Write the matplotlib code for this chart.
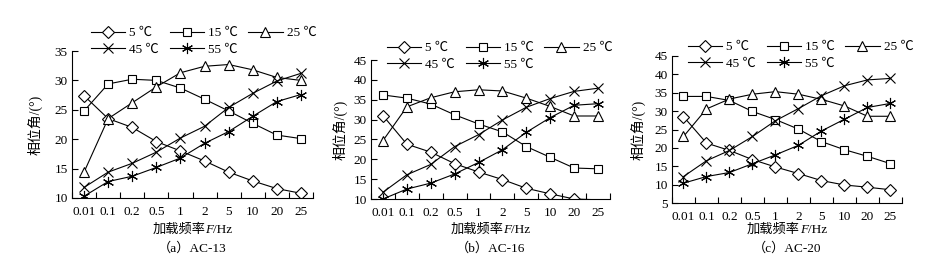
import numpy as np
import matplotlib
matplotlib.use('Agg')
import matplotlib.pyplot as plt
from matplotlib.lines import Line2D
from matplotlib.offsetbox import TextArea, HPacker, AnnotationBbox

# data
freqs = ['0.01', '0.1', '0.2', '0.5', '1', '2', '5', '10', '20', '25']
temps = ['5 ℃', '15 ℃', '25 ℃', '45 ℃', '55 ℃']

ac13_5 = [27.4, 23.5, 22.0, 19.6, 18.0, 16.3, 14.4, 12.9, 11.6, 10.8]
ac13_15 = [24.8, 29.4, 30.2, 30.0, 28.7, 26.8, 24.8, 22.7, 20.7, 20.1]
ac13_25 = [14.4, 23.5, 26.2, 28.9, 31.3, 32.4, 32.7, 31.8, 30.5, 30.0]
ac13_45 = [11.8, 14.4, 15.9, 17.8, 20.2, 22.2, 25.4, 27.8, 29.9, 31.2]
ac13_55 = [10.3, 12.8, 13.7, 15.2, 16.8, 19.3, 21.3, 23.9, 26.4, 27.6]

ac16_5 = [31.0, 23.8, 21.8, 18.9, 16.8, 14.9, 12.7, 11.3, 10.0, 9.8]
ac16_15 = [36.2, 35.4, 33.9, 31.2, 28.9, 26.9, 23.2, 20.5, 17.8, 17.6]
ac16_25 = [24.7, 33.2, 35.5, 37.0, 37.5, 37.2, 35.4, 33.3, 30.9, 30.9]
ac16_45 = [11.7, 16.1, 18.7, 23.2, 26.2, 29.9, 33.1, 35.3, 37.1, 37.9]
ac16_55 = [10.0, 12.5, 14.0, 16.3, 19.2, 22.4, 26.8, 30.5, 33.6, 34.0]

ac20_5 = [28.5, 21.3, 19.3, 16.8, 14.8, 13.0, 11.1, 9.9, 9.3, 8.6]
ac20_15 = [34.0, 34.0, 32.9, 29.9, 27.7, 25.1, 21.7, 19.5, 17.7, 15.7]
ac20_25 = [23.1, 30.6, 33.3, 34.6, 35.3, 34.6, 33.2, 31.4, 28.6, 28.6]
ac20_45 = [12.2, 16.5, 19.3, 23.1, 27.4, 30.7, 34.2, 36.9, 38.5, 38.9]
ac20_55 = [10.4, 12.2, 13.3, 15.7, 18.1, 20.7, 24.6, 27.8, 31.0, 32.1]

panels = [
    ('（a）AC-13', [ac13_5, ac13_15, ac13_25, ac13_45, ac13_55], (10, 35)),
    ('（b）AC-16', [ac16_5, ac16_15, ac16_25, ac16_45, ac16_55], (10, 45)),
    ('（c）AC-20', [ac20_5, ac20_15, ac20_25, ac20_45, ac20_55], (5, 45)),
]

FAM = ['Liberation Serif', 'Noto Sans CJK SC']
plt.rcParams['font.family'] = FAM

W, H = 937, 270
fig = plt.figure(figsize=(W / 100, H / 100), dpi=100)

# axes boxes in pixels: left, right, top, bottom
boxes = [(72, 313, 51, 198), (371, 610, 60, 199), (672, 902, 56, 203)]
leg_pos = [(91, 27), (387, 42), (688, 41)]
ylab_x = [35, 340, 638]

markers = ['D', 's', '^', 'x', (6, 2, 0)]
msizes = [6.5, 6, 7, 7, 8]
mstyle = dict(mfc='white', mec='black', mew=0.8)

for (cap, series, ylim), (l, r, t, b), (lx, ly), yx in zip(panels, boxes, leg_pos, ylab_x):
    ax = fig.add_axes([l / W, 1 - b / H, (r - l) / W, (b - t) / H])
    x = np.arange(len(freqs))
    handles = []
    for vals, lab, m, ms in zip(series, temps, markers, msizes):
        vals = np.asarray(vals)
        ax.plot(x, vals, color='black', lw=0.8)
        # points below the axis floor get no marker, like the original
        shown = np.ma.masked_less(vals, ylim[0])
        ax.plot(x, shown, ls='none', marker=m, ms=ms, **mstyle)
        handles.append(Line2D([], [], color='black', lw=0.8, marker=m,
                              ms=ms, **mstyle))
    ax.set_xlim(-0.5, len(freqs) - 0.5)
    ax.set_ylim(*ylim)
    ax.set_yticks(np.arange(ylim[0], ylim[1] + 1, 5))
    ax.set_xticks(x)
    ax.set_xticklabels(freqs)
    ax.set_xticks(np.arange(-0.5, len(freqs), 1), minor=True)
    ax.tick_params(axis='x', which='major', length=0, pad=6, labelsize=9.5)
    ax.tick_params(axis='x', which='minor', direction='in', length=4, width=0.8)
    ax.tick_params(axis='y', direction='in', length=4, width=0.8, labelsize=9.5, pad=3)
    for s in ['top', 'right']:
        ax.spines[s].set_visible(False)
    for s in ['left', 'bottom']:
        ax.spines[s].set_linewidth(0.8)

    # legend fills column-wise, reorder so rows read 5/15/25 then 45/55
    order = [0, 3, 1, 4, 2]
    ax.legend([handles[i] for i in order], [temps[i] for i in order],
              loc='upper left', bbox_to_anchor=(lx / W, 1 - ly / H),
              bbox_transform=fig.transFigure, ncol=3, frameon=False,
              fontsize=9.5, handlelength=2.6, handletextpad=0.3,
              columnspacing=0.8, labelspacing=0.3, borderpad=0,
              borderaxespad=0)

    fig.text(yx / W, 1 - (t + b) / 2 / H, '相位角/(°)', rotation=90,
             ha='center', va='center', fontsize=10)

    cx = (l + r) / 2 / W
    parts = HPacker(children=[
        TextArea('加载频率', textprops=dict(fontsize=9.5, family=FAM)),
        TextArea('F', textprops=dict(fontsize=9.5, family='Liberation Serif',
                                     style='italic')),
        TextArea('/Hz', textprops=dict(fontsize=9.5, family='Liberation Serif')),
    ], pad=0, sep=0, align='baseline')
    ab = AnnotationBbox(parts, (cx, 1 - 230 / H), xycoords='figure fraction',
                        frameon=False, box_alignment=(0.5, 0.5), pad=0)
    fig.add_artist(ab)

    fig.text(cx, 1 - 248 / H, cap, ha='center', va='center', fontsize=9.5)

fig.savefig('out.png', dpi=100)
